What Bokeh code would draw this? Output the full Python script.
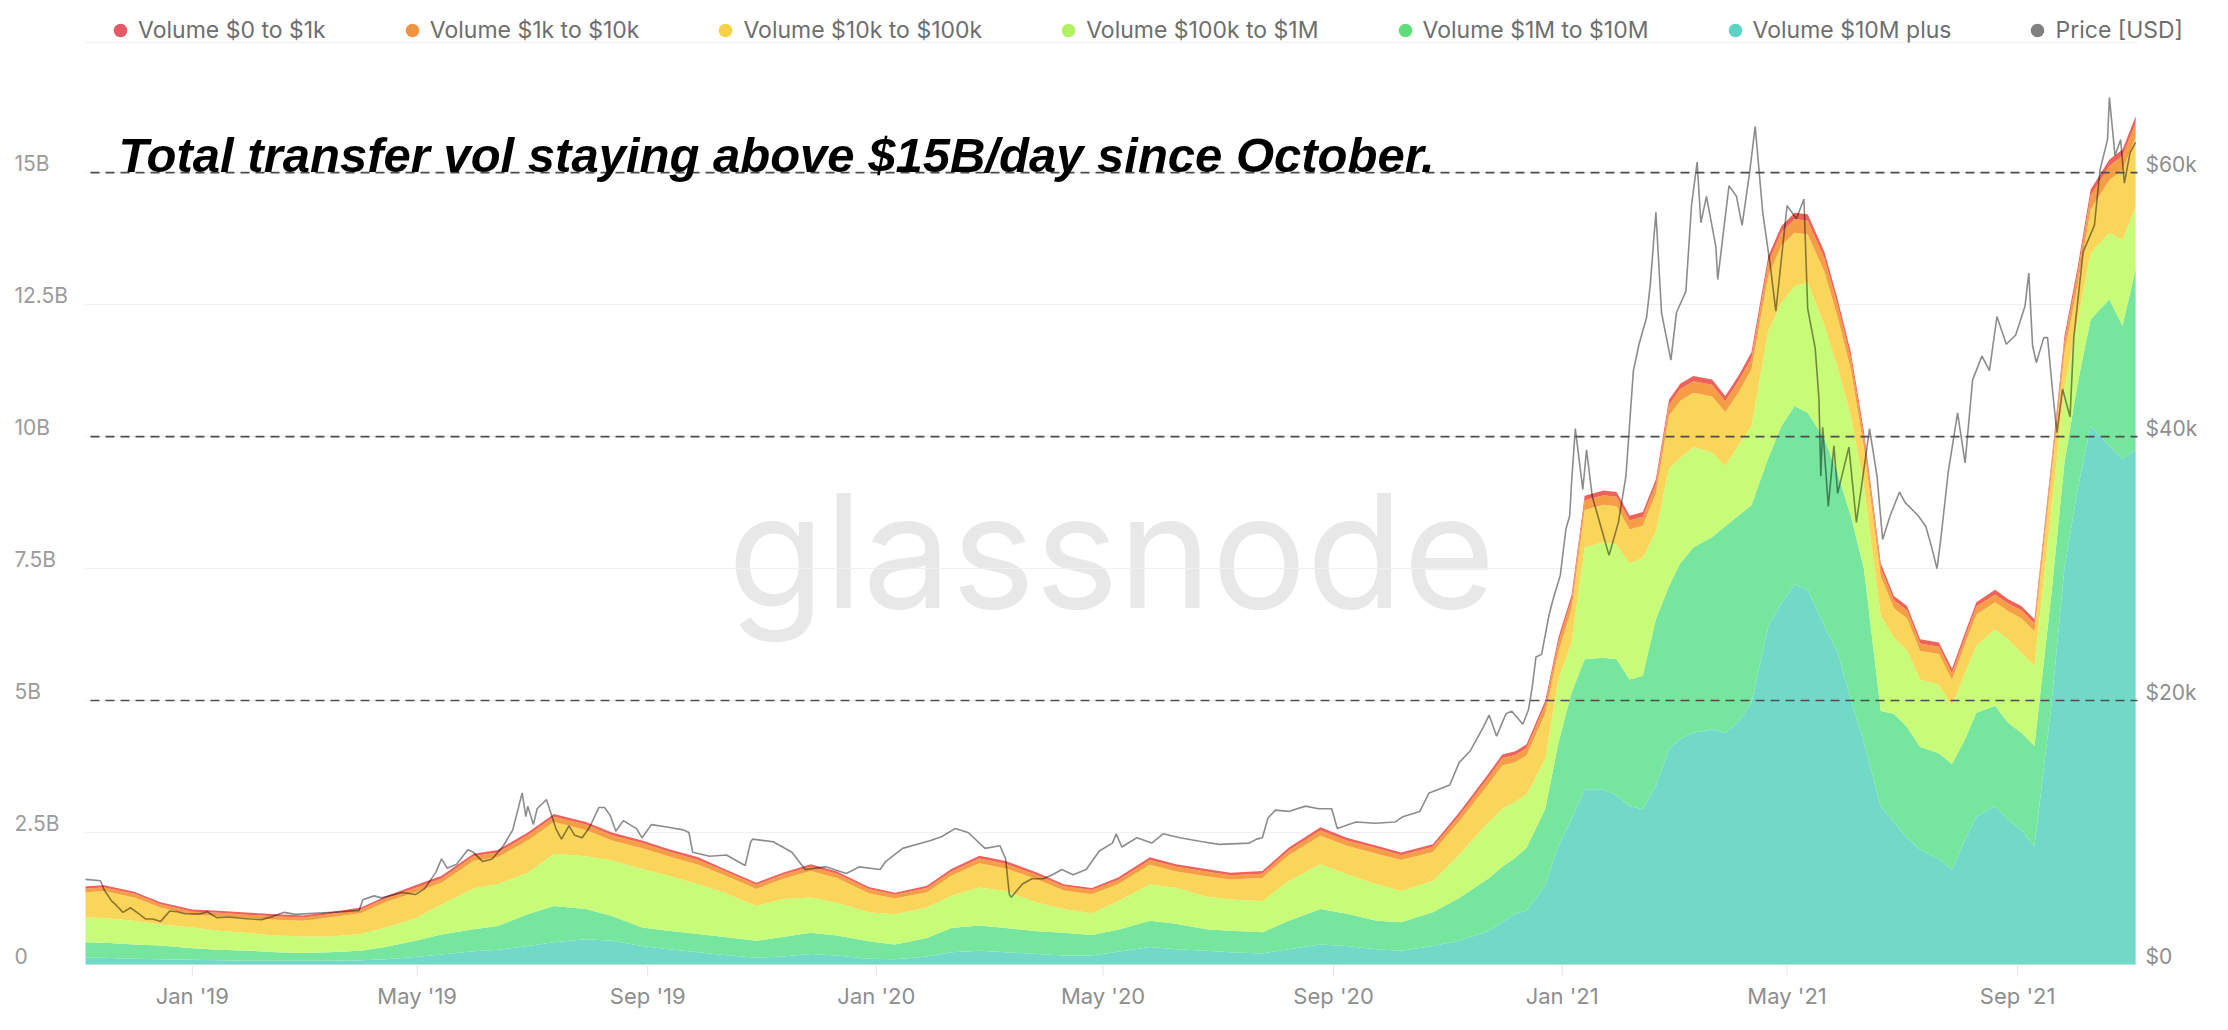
import pandas as pd
from bokeh.plotting import figure
from bokeh.models import ColumnDataSource, Range1d, Label, Legend, LegendItem
from bokeh.embed import file_html
from bokeh.resources import INLINE

# ---------------- data (volumes in billions USD, price in USD) ----------------
dates = [
    "2018-11-05", "2018-11-15", "2018-12-01", "2018-12-15",
    "2019-01-01", "2019-01-15", "2019-02-01", "2019-02-15", "2019-03-01", "2019-03-15",
    "2019-04-01", "2019-04-14", "2019-04-30", "2019-05-14", "2019-05-31", "2019-06-13",
    "2019-06-29", "2019-07-13", "2019-07-30", "2019-08-13", "2019-08-29", "2019-09-12",
    "2019-09-28", "2019-10-12", "2019-10-29", "2019-11-12", "2019-11-27", "2019-12-11",
    "2019-12-28",
    "2020-01-11", "2020-01-28", "2020-02-10", "2020-02-25", "2020-03-10", "2020-03-27",
    "2020-04-10", "2020-04-25", "2020-05-09", "2020-05-26", "2020-06-09", "2020-06-25",
    "2020-07-08", "2020-07-25", "2020-08-08", "2020-08-25", "2020-09-08", "2020-09-24",
    "2020-10-07", "2020-10-24", "2020-11-07", "2020-11-23", "2020-11-30", "2020-12-07",
    "2020-12-13", "2020-12-23", "2020-12-30",
    "2021-01-06", "2021-01-13", "2021-01-23", "2021-01-30", "2021-02-06", "2021-02-13",
    "2021-02-20", "2021-02-27", "2021-03-05", "2021-03-12", "2021-03-22", "2021-03-29",
    "2021-04-05", "2021-04-12", "2021-04-21", "2021-04-28", "2021-05-05", "2021-05-12",
    "2021-05-21", "2021-05-28", "2021-06-04", "2021-06-11", "2021-06-20", "2021-06-27",
    "2021-07-04", "2021-07-11", "2021-07-21", "2021-07-28", "2021-08-04", "2021-08-10",
    "2021-08-20", "2021-08-27", "2021-09-03", "2021-09-10", "2021-09-19", "2021-09-26",
    "2021-10-03", "2021-10-10", "2021-10-20", "2021-10-27", "2021-11-03",
]

vol_0_1k = [
    .04, .04, .04, .04,
    .04, .04, .04, .04, .04, .04, .04, .04, .05, .05, .05, .05, .05, .05, .05, .05,
    .05, .05, .05, .04, .04, .04, .05, .04, .04,
    .04, .04, .05, .05, .05, .05, .04, .04, .05, .05, .05, .05, .05, .05, .05, .06,
    .05, .05, .05, .05, .06, .07, .07, .07, .07, .08, .09,
    .09, .09, .09, .09, .09, .09, .09, .10, .10, .10, .10, .10, .10, .11, .12, .12,
    .12, .12, .12, .11, .11, .10, .09, .08, .08, .08, .08, .08, .08, .08, .09, .08,
    .08, .08, .09, .10, .11, .12, .12, .12, .13,
]

vol_1k_10k = [
    .07, .07, .07, .06,
    .06, .06, .06, .06, .06, .06, .07, .07, .08, .08, .09, .09, .10, .10, .10, .10,
    .10, .09, .09, .08, .08, .08, .08, .08, .08,
    .07, .08, .08, .09, .09, .08, .08, .08, .08, .09, .09, .09, .08, .08, .09, .10,
    .10, .10, .09, .10, .11, .13, .14, .14, .14, .16, .18,
    .18, .18, .18, .18, .17, .17, .18, .21, .22, .22, .22, .21, .22, .22, .25, .25,
    .26, .26, .25, .23, .22, .20, .16, .15, .15, .14, .14, .13, .14, .15, .15, .15,
    .15, .15, .18, .22, .24, .26, .27, .27, .28,
]

vol_10k_100k = [
    .48, .51, .44, .32,
    .24, .28, .29, .30, .30, .36, .39, .48, .50, .41, .52, .51, .61, .60, .50, .38,
    .39, .37, .37, .33, .32, .38, .50, .47, .36,
    .30, .29, .38, .46, .43, .44, .35, .36, .32, .37, .31, .38, .38, .44, .49, .54,
    .54, .58, .59, .55, .63, .72, .82, .74, .74, .86, .53,
    .63, .71, .71, .73, .64, .61, .72, .99, 1.08, 1.03, 1.06, 1.01, 1.00, 1.07, 1.05, 1.08,
    1.01, .91, 1.02, .96, .87, .73, .75, .55, .61, .54, .58, .49, .54, .59, .51, .53,
    .65, .65, .63, .68, .65, .82, 1.00, 1.32, 1.29,
]

vol_100k_1m = [
    .47, .47, .45, .40,
    .39, .36, .33, .32, .31, .30, .32, .37, .42, .57, .77, .79, .79, .99, 1.00, 1.05,
    1.11, 1.04, .94, .84, .66, .72, .67, .62, .55,
    .57, .58, .61, .72, .70, .54, .45, .41, .54, .69, .68, .62, .59, .59, .75, .85,
    .75, .69, .59, .59, .82, 1.07, 1.10, 1.07, 1.01, .95, 1.20,
    .95, 2.12, 2.19, 2.17, 2.20, 2.23, 1.66, 2.23, 2.00, 1.90, 1.60, 1.15, 1.33, 1.50, 2.40, 2.34,
    2.27, 2.47, 2.15, 2.00, 1.90, 1.57, 1.80, 1.45, 1.45, 1.28, 1.30, 1.10, 1.26, 1.27, 1.45, 1.58,
    1.52, 1.52, 1.60, 1.40, 1.20, 1.26, 1.26, 1.63, 1.20,
]

vol_1m_10m = [
    .29, .28, .27, .26,
    .22, .20, .19, .16, .15, .16, .18, .23, .31, .38, .42, .45, .60, .69, .57, .47,
    .35, .35, .35, .34, .32, .37, .40, .38, .33,
    .28, .35, .46, .48, .46, .43, .43, .39, .42, .50, .48, .41, .41, .40, .54, .67,
    .61, .54, .54, .64, .81, 1.00, 1.05, 1.06, 1.19, 1.45, 1.95,
    2.40, 2.46, 2.49, 2.58, 2.40, 2.53, 3.16, 3.09, 3.33, 3.51, 3.65, 3.91, 3.90, 3.74, 3.19, 3.35,
    3.38, 3.35, 3.54, 3.39, 3.48, 3.30, 1.80, 2.05, 2.10, 1.94, 2.00, 2.00, 1.90, 1.97, 1.90, 1.84,
    1.84, 1.90, 2.10, 2.00, 2.00, 2.02, 2.78, 2.53, 3.41,
]

vol_10m_plus = [
    .13, .13, .11, .10,
    .09, .08, .07, .07, .07, .07, .08, .10, .14, .19, .25, .28, .35, .42, .48, .45,
    .35, .29, .23, .18, .13, .15, .20, .17, .11,
    .10, .15, .23, .26, .23, .20, .17, .17, .24, .33, .29, .26, .23, .21, .29, .38,
    .35, .29, .26, .35, .45, .64, .80, .96, 1.02, 1.50, 2.25,
    2.75, 3.32, 3.32, 3.20, 3.00, 2.94, 3.38, 4.08, 4.27, 4.39, 4.45, 4.39, 4.60, 4.96, 6.41, 6.85,
    7.20, 7.10, 6.41, 5.91, 5.02, 4.20, 3.00, 2.70, 2.40, 2.18, 2.00, 1.80, 2.37, 2.80, 3.00, 2.74,
    2.55, 2.24, 4.90, 7.50, 9.00, 10.20, 9.82, 9.57, 9.76,
]

price_dates = [
    "2018-11-05", "2018-11-13", "2018-11-15", "2018-11-19", "2018-11-21", "2018-11-25",
    "2018-11-29", "2018-12-03", "2018-12-07", "2018-12-11", "2018-12-15", "2018-12-20",
    "2018-12-24", "2018-12-28", "2019-01-05", "2019-01-09", "2019-01-14", "2019-01-20",
    "2019-02-01", "2019-02-07", "2019-02-12", "2019-02-19", "2019-02-25", "2019-03-07",
    "2019-03-22", "2019-03-31", "2019-04-02", "2019-04-08", "2019-04-12", "2019-04-23",
    "2019-04-30", "2019-05-05", "2019-05-11", "2019-05-14", "2019-05-17", "2019-05-22",
    "2019-05-28", "2019-05-31", "2019-06-05", "2019-06-10", "2019-06-16", "2019-06-21",
    "2019-06-26", "2019-06-28", "2019-06-29", "2019-07-02", "2019-07-04", "2019-07-09",
    "2019-07-14", "2019-07-17", "2019-07-21", "2019-07-24", "2019-07-28", "2019-08-01",
    "2019-08-06", "2019-08-09", "2019-08-12", "2019-08-15", "2019-08-19", "2019-08-26",
    "2019-08-29", "2019-09-03", "2019-09-12", "2019-09-20", "2019-09-23", "2019-09-25",
    "2019-10-04", "2019-10-13", "2019-10-23", "2019-10-25", "2019-10-26", "2019-10-27",
    "2019-11-07", "2019-11-17", "2019-11-24", "2019-12-05", "2019-12-16", "2019-12-23",
    "2020-01-03", "2020-01-06", "2020-01-15", "2020-01-30", "2020-02-05", "2020-02-12",
    "2020-02-19", "2020-02-28", "2020-03-07", "2020-03-10", "2020-03-12", "2020-03-13",
    "2020-03-19", "2020-03-24", "2020-03-30", "2020-04-04", "2020-04-09", "2020-04-15",
    "2020-04-22", "2020-04-29", "2020-05-06", "2020-05-08", "2020-05-11", "2020-05-19",
    "2020-05-27", "2020-06-02", "2020-06-11", "2020-06-23", "2020-07-02", "2020-07-18",
    "2020-07-22", "2020-07-25", "2020-07-28", "2020-08-01", "2020-08-08", "2020-08-17",
    "2020-08-24", "2020-08-31", "2020-09-03", "2020-09-13", "2020-09-23", "2020-10-04",
    "2020-10-08", "2020-10-17", "2020-10-22", "2020-11-02", "2020-11-07", "2020-11-13",
    "2020-11-20", "2020-11-23", "2020-11-27", "2020-12-02", "2020-12-05", "2020-12-11",
    "2020-12-14", "2020-12-16", "2020-12-18", "2020-12-21", "2020-12-25", "2020-12-27",
    "2020-12-31", "2021-01-03", "2021-01-05", "2021-01-06", "2021-01-08", "2021-01-12",
    "2021-01-14", "2021-01-17", "2021-01-22", "2021-01-26", "2021-01-31", "2021-02-04",
    "2021-02-08", "2021-02-11", "2021-02-15", "2021-02-17", "2021-02-20", "2021-02-23",
    "2021-02-28", "2021-03-03", "2021-03-08", "2021-03-11", "2021-03-14", "2021-03-16",
    "2021-03-19", "2021-03-24", "2021-03-25", "2021-03-31", "2021-04-04", "2021-04-07",
    "2021-04-11", "2021-04-14", "2021-04-18", "2021-04-22", "2021-04-25", "2021-05-01",
    "2021-05-06", "2021-05-10", "2021-05-12", "2021-05-16", "2021-05-18", "2021-05-19",
    "2021-05-20", "2021-05-23", "2021-05-26", "2021-05-28", "2021-06-03", "2021-06-07",
    "2021-06-10", "2021-06-14", "2021-06-18", "2021-06-21", "2021-06-25", "2021-06-30",
    "2021-07-03", "2021-07-10", "2021-07-14", "2021-07-17", "2021-07-20", "2021-07-22",
    "2021-07-26", "2021-07-29", "2021-07-31", "2021-08-04", "2021-08-08", "2021-08-13",
    "2021-08-17", "2021-08-21", "2021-08-26", "2021-08-31", "2021-09-05", "2021-09-07",
    "2021-09-09", "2021-09-11", "2021-09-15", "2021-09-17", "2021-09-20", "2021-09-22",
    "2021-09-25", "2021-09-29", "2021-10-01", "2021-10-06", "2021-10-12", "2021-10-15",
    "2021-10-19", "2021-10-20", "2021-10-23", "2021-10-26", "2021-10-28", "2021-10-31",
    "2021-11-03",
]

price_usd = [
    6450, 6350, 5650, 4800, 4550, 3950,
    4300, 3900, 3450, 3450, 3250, 4050,
    4000, 3850, 3830, 4000, 3550, 3600,
    3450, 3400, 3600, 3950, 3800, 3880,
    4000, 4100, 4900, 5200, 5050, 5450,
    5300, 5750, 7000, 8000, 7300, 7600,
    8700, 8500, 7800, 8000, 9000, 10200,
    13000, 11200, 12000, 10600, 11800, 12500,
    10300, 9500, 10500, 9800, 9600, 10400,
    11900, 11900, 11300, 10100, 10900, 10300,
    9600, 10600, 10400, 10200, 10000, 8500,
    8200, 8300, 7500, 8700, 9300, 9500,
    9300, 8500, 7200, 7400, 6900, 7400,
    7200, 7800, 8800, 9400, 9700, 10300,
    10000, 8800, 9000, 8000, 5300, 5100,
    6100, 6500, 6500, 6800, 7200, 6800,
    7200, 8600, 9200, 9900, 8900, 9600,
    9200, 9900, 9600, 9300, 9100, 9200,
    9500, 9600, 11100, 11700, 11600, 12000,
    11800, 11800, 10300, 10800, 10700, 10800,
    11200, 11600, 13000, 13600, 15300, 16200,
    18000, 18900, 17300, 19000, 19200, 18200,
    19300, 21000, 23300, 23500, 26500, 27600,
    29500, 33000, 34000, 36500, 40600, 36000,
    39000, 35500, 33000, 31000, 33500, 37000,
    45000, 47000, 49000, 51500, 57000, 49400,
    45800, 49400, 51000, 57500, 60800, 56200,
    58200, 54400, 51900, 59000, 58200, 56000,
    60000, 63500, 57000, 53000, 49500, 57500,
    56500, 58000, 49700, 46700, 42900, 37000,
    40700, 34700, 39300, 35700, 39200, 33500,
    36500, 40600, 37000, 32200, 34000, 35800,
    35000, 34000, 33200, 31700, 30000, 32200,
    37300, 40000, 41800, 38000, 44300, 46100,
    45000, 49100, 47000, 47700, 49900, 52400,
    46900, 45600, 47500, 47500, 43000, 40300,
    43600, 41500, 47500, 54000, 56000, 60200,
    62500, 65700, 61300, 62500, 59200, 61500,
    62300,
]

series_labels = ["Volume $0 to $1k", "Volume $1k to $10k", "Volume $10k to $100k",
                 "Volume $100k to $1M", "Volume $1M to $10M", "Volume $10M plus",
                 "Price [USD]"]
y_tick_values = [0, 2.5, 5, 7.5, 10, 12.5, 15]
y_tick_labels = ["0", "2.5B", "5B", "7.5B", "10B", "12.5B", "15B"]
price_tick_values = [0, 20000, 40000, 60000]
price_tick_labels = ["$0", "$20k", "$40k", "$60k"]
x_tick_dates = ["2019-01-01", "2019-05-01", "2019-09-01", "2020-01-01", "2020-05-01",
                "2020-09-01", "2021-01-01", "2021-05-01", "2021-09-01"]
x_tick_labels = ["Jan '19", "May '19", "Sep '19", "Jan '20", "May '20", "Sep '20",
                 "Jan '21", "May '21", "Sep '21"]
reference_levels = [5, 10, 15]
title_text = "Total transfer vol staying above $15B/day since October."

# ---------------- styles / layout ----------------
area_colors = {"v0": "#ef625a", "v1k": "#f59e45", "v10k": "#f9d55a",
               "v100k": "#c8fb77", "v1m": "#76e59d", "v10m": "#72d9c9"}
legend_colors = ["#e85865", "#ef9540", "#f5d143", "#b2f162", "#5ede7a", "#5dd3c3", "#808080"]
LABEL_FONT = "Inter"
PRICE_PER_B = 4000.0
Y_MAX = 17.2
W, H = 2212, 1014
PLOT_L, PLOT_R, PLOT_T, PLOT_B = 85, 2137, 56, 964   # plot area inside the canvas

x_start = pd.Timestamp("2018-11-05")
x_end = pd.Timestamp("2021-11-04")
xs_ms = x_start.value / 1e6
xe_ms = x_end.value / 1e6
ms_per_px = (xe_ms - xs_ms) / (PLOT_R - PLOT_L)
b_per_px = Y_MAX / (PLOT_B - PLOT_T)

x_range = Range1d(xs_ms - PLOT_L * ms_per_px, xe_ms + (W - PLOT_R) * ms_per_px)
y_lo = -(H - PLOT_B) * b_per_px
y_hi = Y_MAX + PLOT_T * b_per_px
y_range = Range1d(y_lo, y_hi)

src = ColumnDataSource(dict(
    date=pd.to_datetime(dates),
    v0=vol_0_1k, v1k=vol_1k_10k, v10k=vol_10k_100k,
    v100k=vol_100k_1m, v1m=vol_1m_10m, v10m=vol_10m_plus,
))
price_src = ColumnDataSource(dict(date=pd.to_datetime(price_dates), price=price_usd))

p = figure(width=W, height=H, x_axis_location=None, y_axis_location=None,
           x_range=x_range, y_range=y_range,
           output_backend="svg", toolbar_location=None,
           min_border_left=0, min_border_right=0, min_border_top=0, min_border_bottom=0)
p.extra_y_ranges = {"price": Range1d(y_lo * PRICE_PER_B, y_hi * PRICE_PER_B)}
p.outline_line_color = None
p.background_fill_color = "white"
p.border_fill_color = "white"
p.grid.visible = False

# faint separator under the legend
p.segment(x0=[xs_ms], x1=[xe_ms], y0=[Y_MAX + 14 * b_per_px], y1=[Y_MAX + 14 * b_per_px],
          line_color="#f2f2f2", line_width=1.5)

# faint horizontal grid lines across the plot area
n = len(y_tick_values)
p.segment(x0=[xs_ms] * n, x1=[xe_ms] * n, y0=y_tick_values, y1=y_tick_values,
          line_color="#f0f0f0", line_width=1)

# watermark
p.add_layout(Label(x=(xs_ms + xe_ms) / 2, y=Y_MAX, y_offset=-494,
                   text="glassnode", text_align="center", text_baseline="alphabetic",
                   text_font=LABEL_FONT, text_font_size="158px", text_color="#e8e8e8",
                   level="underlay"))

stack_order = ["v10m", "v1m", "v100k", "v10k", "v1k", "v0"]
p.varea_stack(stackers=stack_order, x="date", source=src,
              color=[area_colors[k] for k in stack_order])

p.line(x="date", y="price", source=price_src, y_range_name="price",
       line_color="black", line_alpha=0.45, line_width=1.6)

# dashed reference lines
m = len(reference_levels)
p.segment(x0=[xs_ms + 5 * ms_per_px] * m, x1=[xe_ms] * m, y0=reference_levels, y1=reference_levels,
          line_color="#4d4d4d", line_dash="9 6", line_width=1.6)

# x tick marks (faint, below the plot) and labels
xticks = [pd.Timestamp(d).value / 1e6 for d in x_tick_dates]
k = len(xticks)
p.segment(x0=xticks, x1=xticks, y0=[0] * k, y1=[-12 * b_per_px] * k,
          line_color="#e6e6e6", line_width=1)
for t, lab in zip(xticks, x_tick_labels):
    p.add_layout(Label(x=t, y=0, y_offset=-31, text=lab, text_align="center",
                       text_baseline="middle", text_font=LABEL_FONT,
                       text_font_size="22px", text_color="#8e8e8e"))

# left tick labels (left aligned, slightly above their grid line)
for v, t in zip(y_tick_values, y_tick_labels):
    p.add_layout(Label(x=xs_ms, y=v, x_offset=-71, y_offset=9, text=t,
                       text_align="left", text_baseline="middle",
                       text_font=LABEL_FONT, text_font_size="21px", text_color="#9b9b9b"))
# right (price) tick labels
for v, t in zip(price_tick_values, price_tick_labels):
    p.add_layout(Label(x=xe_ms, y=v, y_range_name="price", x_offset=8, y_offset=8, text=t,
                       text_align="left", text_baseline="middle",
                       text_font=LABEL_FONT, text_font_size="21px", text_color="#8e8e8e"))

# annotation title
p.add_layout(Label(x=xs_ms, y=Y_MAX, x_offset=33, y_offset=-98, text=title_text,
                   text_align="left", text_baseline="alphabetic",
                   text_font="Liberation Sans", text_font_style="bold italic",
                   text_font_size="49px", text_color="black"))

# legend with dot markers (proxy renderers anchored outside the visible canvas)
proxies = [p.scatter(x=[xs_ms], y=[y_lo * 3], marker="circle", size=10,
                     fill_color=c, line_color=None)
           for c in legend_colors]
legend = Legend(items=[LegendItem(label=l, renderers=[r]) for l, r in zip(series_labels, proxies)],
                orientation="horizontal", location=(103, H - 47),
                glyph_width=34, glyph_height=34, label_standoff=1, spacing=69,
                padding=0, margin=0, border_line_color=None, background_fill_alpha=0,
                label_text_font=LABEL_FONT, label_text_font_size="23px",
                label_text_color="#6e6e6e")
p.add_layout(legend)

open("out.html", "w").write(file_html(p, INLINE))
